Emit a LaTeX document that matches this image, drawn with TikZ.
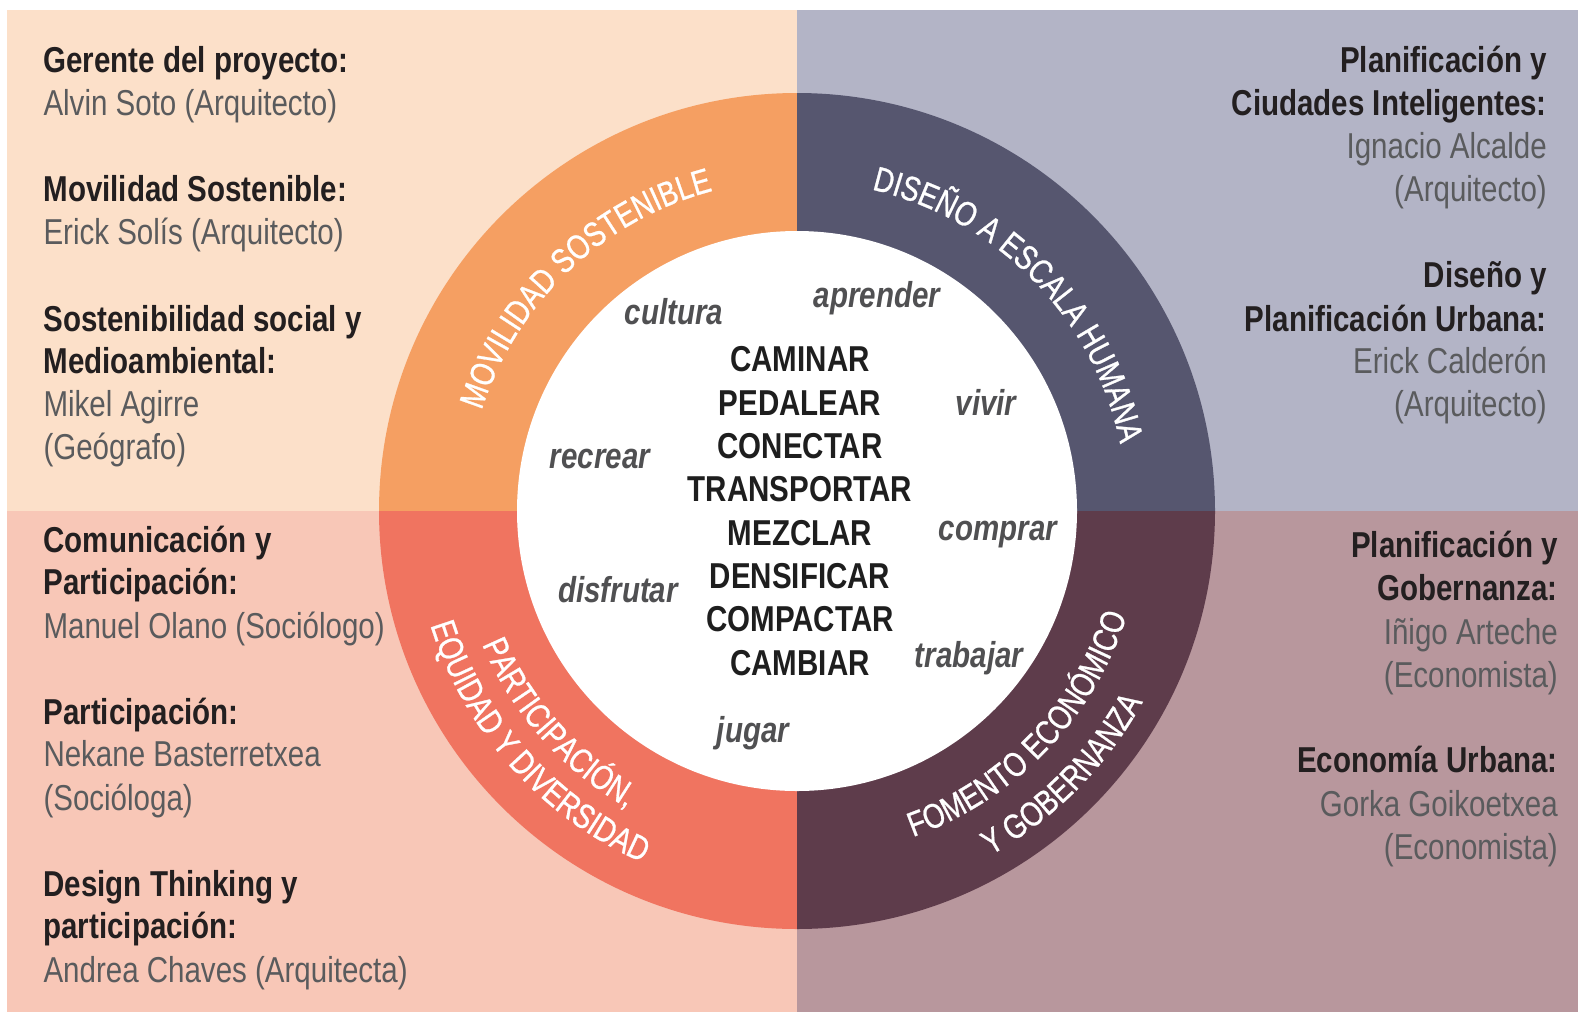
\documentclass[tikz,border=0pt]{standalone}
\usepackage{fontspec}
\setmainfont{Liberation Sans}
\newfontfamily\narrowfont{Liberation Sans}[FakeStretch=0.82]
\newfontfamily\ringfont{Liberation Sans}[FakeStretch=0.80,FakeBold=0.8]
\usetikzlibrary{decorations.text}
\definecolor{bgTL}{HTML}{FCE0C9}
\definecolor{bgTR}{HTML}{B3B4C6}
\definecolor{bgBL}{HTML}{F8C7B7}
\definecolor{bgBR}{HTML}{B8979D}
\definecolor{rgTL}{HTML}{F59F62}
\definecolor{rgTR}{HTML}{56566F}
\definecolor{rgBL}{HTML}{F07460}
\definecolor{rgBR}{HTML}{5E3C4B}
\definecolor{hdrc}{HTML}{231F20}
\definecolor{namec}{HTML}{5A5B5D}
\definecolor{verbc}{HTML}{1E1E1E}
\definecolor{softc}{HTML}{505052}
\newcommand\ringfmt{\color{white}\ringfont\fontsize{34.5}{42}\selectfont}
\begin{document}
\begin{tikzpicture}[x=1pt,y=-1pt,
  hdr/.style={inner sep=0pt, text=hdrc, font=\narrowfont\bfseries\fontsize{36}{43}\selectfont},
  nm/.style={inner sep=0pt, text=namec, font=\narrowfont\fontsize{36}{43}\selectfont},
  verb/.style={inner sep=0pt, text=verbc, font=\narrowfont\bfseries\fontsize{36}{43}\selectfont, anchor=base},
  soft/.style={inner sep=0pt, text=softc, font=\narrowfont\bfseries\itshape\fontsize{36}{43}\selectfont},
  ringtxt/.style={decorate, decoration={text along path, text align=center, text={|\ringfmt|#1}}}
]
\useasboundingbox (0,0) rectangle (1578,1012);
\fill[white] (0,0) rectangle (1578,1012);
\fill[bgTL] (7,10) rectangle (797,511);
\fill[bgTR] (797,10) rectangle (1578,511);
\fill[bgBL] (7,511) rectangle (797,1012);
\fill[bgBR] (797,511) rectangle (1578,1012);

\begin{scope}[shift={(797,511)}, y=1pt]
  \fill[rgTL] (0,0) -- (90:418) arc[start angle=90, end angle=180, radius=418] -- cycle;
  \fill[rgTR] (0,0) -- (0:418) arc[start angle=0, end angle=90, radius=418] -- cycle;
  \fill[rgBL] (0,0) -- (180:418) arc[start angle=180, end angle=270, radius=418] -- cycle;
  \fill[rgBR] (0,0) -- (270:418) arc[start angle=270, end angle=360, radius=418] -- cycle;
  \fill[white] (0,0) circle[radius=280];
  \path[ringtxt={MOVILIDAD SOSTENIBLE}] (200:331) arc[start angle=200, end angle=67, radius=331];
  \path[ringtxt={DISEÑO A ESCALA HUMANA}] (110.3:330) arc[start angle=110.3, end angle=-21.7, radius=330];
  \path[ringtxt={PARTICIPACIÓN,}] (151.6:342) arc[start angle=151.6, end angle=291.6, radius=342];
  \path[ringtxt={EQUIDAD Y DIVERSIDAD}] (151.8:384) arc[start angle=151.8, end angle=291.8, radius=384];
  \path[ringtxt={FOMENTO ECONÓMICO}] (246:346) arc[start angle=246, end angle=386, radius=346];
  \path[ringtxt={Y GOBERNANZA}] (245.2:395) arc[start angle=245.2, end angle=385.2, radius=395];
\end{scope}

% center verbs
\node[verb] (v1) at (800,371.9) {CAMINAR};
\node[verb] (v2) at (800,415.2) {PEDALEAR};
\node[verb] (v3) at (800,458.5) {CONECTAR};
\node[verb] (v4) at (800,501.8) {TRANSPORTAR};
\node[verb] (v5) at (800,545.1) {MEZCLAR};
\node[verb] (v6) at (800,588.4) {DENSIFICAR};
\node[verb] (v7) at (800,631.7) {COMPACTAR};
\node[verb] (v8) at (800,675.0) {CAMBIAR};

% soft words
\node[soft] (s1) at (674,312) {cultura};
\node[soft] (s2) at (877,298) {aprender};
\node[soft] (s3) at (986,402) {vivir};
\node[soft] (s4) at (600,459) {recrear};
\node[soft] (s5) at (998,535) {comprar};
\node[soft] (s6) at (618,590) {disfrutar};
\node[soft] (s7) at (969,658) {trabajar};
\node[soft] (s8) at (753,733) {jugar};

% left column
\node[hdr, anchor=base west] (l1) at (43.3,72.4) {Gerente del proyecto:};
\node[nm, anchor=base west] (l2) at (43.3,115.7) {Alvin Soto (Arquitecto)};
\node[hdr, anchor=base west] (l3) at (43.3,201.2) {Movilidad Sostenible:};
\node[nm, anchor=base west] (l4) at (43.3,244.5) {Erick Solís (Arquitecto)};
\node[hdr, anchor=base west] (l5) at (43.3,331) {Sostenibilidad social y};
\node[hdr, anchor=base west] (l6) at (43.3,373.3) {Medioambiental:};
\node[nm, anchor=base west] (l7) at (43.3,416.6) {Mikel Agirre};
\node[nm, anchor=base west] (l8) at (43.3,459.9) {(Geógrafo)};
\node[hdr, anchor=base west] (l9) at (43.3,552.4) {Comunicación y};
\node[hdr, anchor=base west] (l10) at (43.3,594.7) {Participación:};
\node[nm, anchor=base west] (l11) at (43.3,638) {Manuel Olano (Sociólogo)};
\node[hdr, anchor=base west] (l12) at (43.3,724.5) {Participación:};
\node[nm, anchor=base west] (l13) at (43.3,766.8) {Nekane Basterretxea};
\node[nm, anchor=base west] (l14) at (43.3,810.1) {(Socióloga)};
\node[hdr, anchor=base west] (l15) at (43.3,896.6) {Design Thinking y};
\node[hdr, anchor=base west] (l16) at (43.3,938.9) {participación:};
\node[nm, anchor=base west] (l17) at (43.3,982.2) {Andrea Chaves (Arquitecta)};

% right top
\node[hdr, anchor=base east] (r1) at (1547,72.4) {Planificación y};
\node[hdr, anchor=base east] (r2) at (1547,115.7) {Ciudades Inteligentes:};
\node[nm, anchor=base east] (r3) at (1547,158.9) {Ignacio Alcalde};
\node[nm, anchor=base east] (r4) at (1547,201.2) {(Arquitecto)};
\node[hdr, anchor=base east] (r5) at (1547,287.8) {Diseño y};
\node[hdr, anchor=base east] (r6) at (1547,331) {Planificación Urbana:};
\node[nm, anchor=base east] (r7) at (1547,373.3) {Erick Calderón};
\node[nm, anchor=base east] (r8) at (1547,416.6) {(Arquitecto)};

% right bottom
\node[hdr, anchor=base east] (r9) at (1558,557.5) {Planificación y};
\node[hdr, anchor=base east] (r10) at (1558,600.8) {Gobernanza:};
\node[nm, anchor=base east] (r11) at (1558,644) {Iñigo Arteche};
\node[nm, anchor=base east] (r12) at (1558,687.3) {(Economista)};
\node[hdr, anchor=base east] (r13) at (1558,772.8) {Economía Urbana:};
\node[nm, anchor=base east] (r14) at (1558,816.1) {Gorka Goikoetxea};
\node[nm, anchor=base east] (r15) at (1558,859.4) {(Economista)};
\end{tikzpicture}
\end{document}
